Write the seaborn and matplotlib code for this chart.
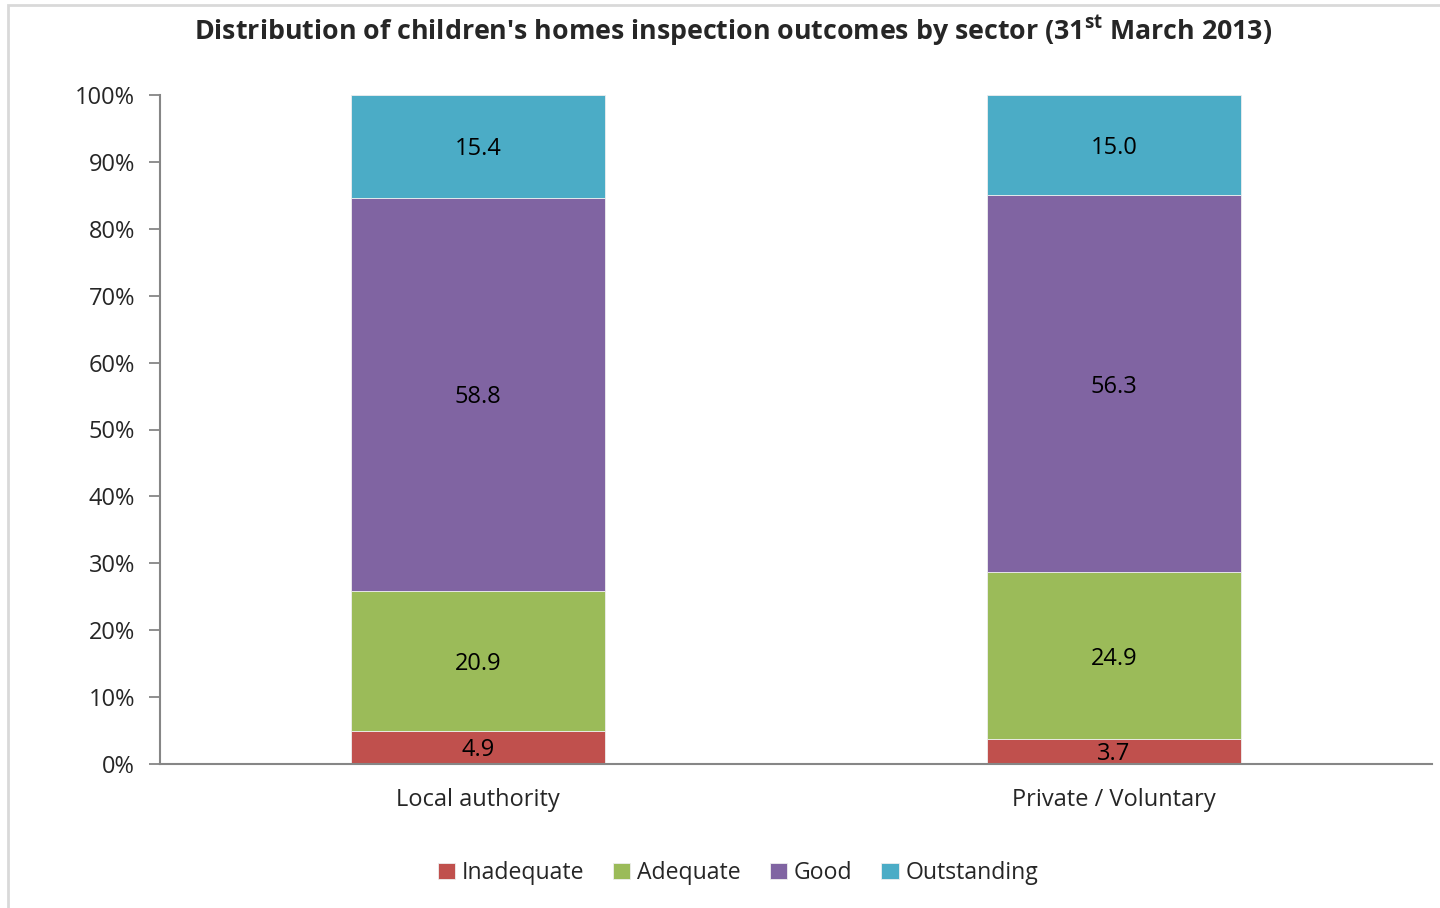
import numpy as np
import pandas as pd
import matplotlib
matplotlib.use("Agg")
import matplotlib.pyplot as plt
from matplotlib.patches import Rectangle
import seaborn as sns

sectors = ["Local authority", "Private / Voluntary"]
outcomes = ["Inadequate", "Adequate", "Good", "Outstanding"]
inadequate = [4.9, 3.7]
adequate = [20.9, 24.9]
good = [58.8, 56.3]
outstanding = [15.4, 15.0]
colours = ["#C0504D", "#9BBB59", "#8064A2", "#4BACC6"]

sns.set_theme(style="white")
plt.rcParams["font.family"] = ["Open Sans", "DejaVu Sans"]
plt.rcParams["mathtext.fontset"] = "custom"
plt.rcParams["mathtext.rm"] = "Open Sans"
plt.rcParams["mathtext.bf"] = "Open Sans:bold"

raw = pd.DataFrame({"sector": sectors, "Inadequate": inadequate, "Adequate": adequate,
                    "Good": good, "Outstanding": outstanding})
totals = raw[outcomes].sum(axis=1)
pct = raw[outcomes].div(totals, axis=0) * 100

fig = plt.figure(figsize=(14.4, 9.08), dpi=100)
fig.patches.append(Rectangle((8 / 1440, -0.05), 1.1, 1 - 5 / 908 + 0.05, transform=fig.transFigure,
                             fill=False, edgecolor="#D9D9D9", linewidth=2))
ax = fig.add_axes([160 / 1440, 1 - 764 / 908, 1272 / 1440, (764 - 95) / 908])

bottom = np.zeros(len(sectors))
for name, col in zip(outcomes, colours):
    sns.barplot(x=raw["sector"], y=pct[name], bottom=bottom, color=col, saturation=1,
                width=0.4, label=name, ax=ax, order=sectors, edgecolor="#EEEEEE", linewidth=0.6)
    for i in range(len(sectors)):
        ax.text(i, bottom[i] + pct[name][i] / 2 - 0.4, f"{raw[name][i]:.1f}", ha="center", va="center",
                fontsize=17, color="black")
    bottom += pct[name].values

handles, labels = ax.get_legend_handles_labels()
if ax.get_legend() is not None:
    ax.get_legend().remove()

ax.set_xlim(-0.5, 1.5)
ax.set_ylim(0, 100)
ax.set_yticks(np.arange(0, 101, 10))
ax.set_yticklabels([f"{v}%" for v in range(0, 101, 10)], fontsize=17)
ax.set_xticks([0, 1])
ax.set_xticklabels(sectors, fontsize=17)
ax.set_xticks([-0.5, 0.5, 1.5], minor=True)
ax.tick_params(axis="x", which="major", length=0, pad=17)
ax.tick_params(axis="x", which="minor", length=7, color="#868686", width=1.3, direction="out")
ax.tick_params(axis="y", length=8, color="#868686", width=1.3, direction="out", left=True, pad=10)
ax.set_xlabel("")
ax.set_ylabel("")
for s in ["top", "right"]:
    ax.spines[s].set_visible(False)
for s in ["left", "bottom"]:
    ax.spines[s].set_color("#868686")
    ax.spines[s].set_linewidth(1.5)

fig.text(733 / 1440, 1 - 31 / 908,
         "Distribution of children's homes inspection outcomes by sector (31$^{\\mathbf{st}}$ March 2013)",
         ha="center", va="center", fontsize=19.3, fontweight="bold")

fig.legend(handles, labels, loc="center", bbox_to_anchor=(738 / 1440, 1 - 873 / 908), ncol=4,
           frameon=False, fontsize=16.6, handlelength=0.75, handleheight=0.75, handletextpad=0.3,
           columnspacing=1.25)

fig.savefig("out.png", dpi=100)
